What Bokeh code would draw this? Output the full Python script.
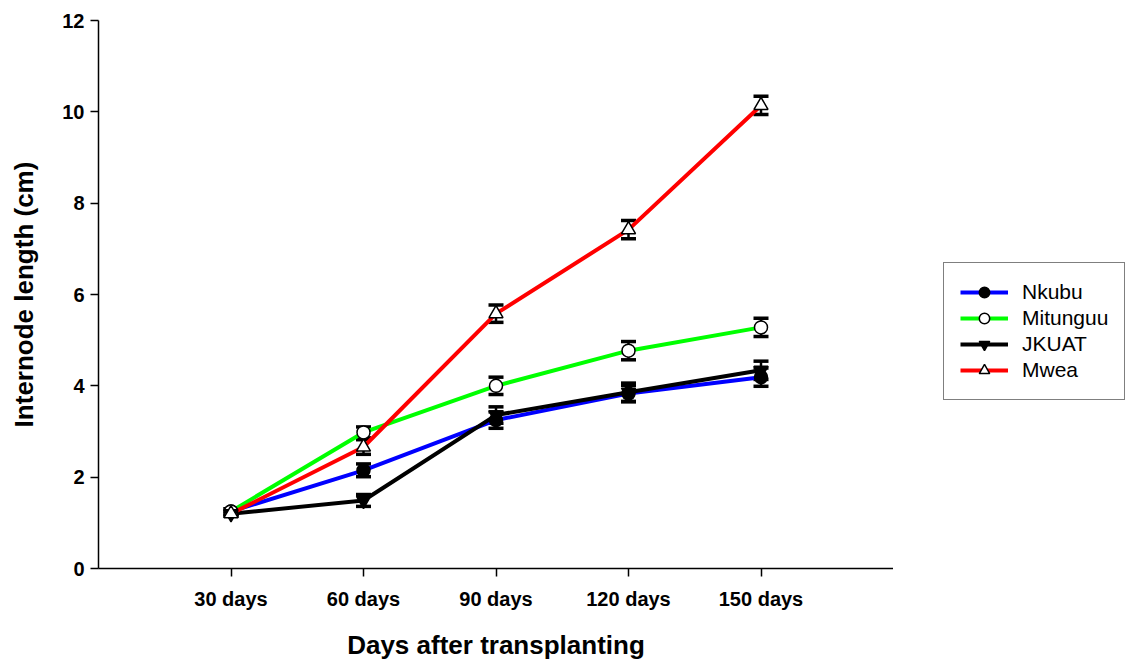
from bokeh.plotting import figure
from bokeh.layouts import row
from bokeh.models import (ColumnDataSource, Whisker, TeeHead, Legend, LegendItem,
                          FixedTicker, Range1d)
from bokeh.embed import file_html
from bokeh.resources import INLINE

categories = ["30 days", "60 days", "90 days", "120 days", "150 days"]
x_pos = [1, 2, 3, 4, 5]

nkubu = [1.25, 2.15, 3.25, 3.83, 4.19]
nkubu_err = [0.06, 0.14, 0.18, 0.18, 0.2]
mitunguu = [1.25, 2.98, 4.0, 4.77, 5.28]
mitunguu_err = [0.06, 0.12, 0.19, 0.2, 0.2]
jkuat = [1.2, 1.49, 3.36, 3.86, 4.34]
jkuat_err = [0.05, 0.13, 0.18, 0.2, 0.2]
mwea = [1.2, 2.66, 5.58, 7.42, 10.14]
mwea_err = [0.05, 0.16, 0.19, 0.2, 0.2]

series = [
    ("Nkubu", nkubu, nkubu_err, "#0000ff", "circle", "black"),
    ("Mitunguu", mitunguu, mitunguu_err, "#00ff00", "circle", "white"),
    ("JKUAT", jkuat, jkuat_err, "black", "inverted_triangle", "black"),
    ("Mwea", mwea, mwea_err, "#ff0000", "triangle", "white"),
]

p = figure(frame_width=795, frame_height=548, output_backend="svg", toolbar_location=None,
           x_range=Range1d(0, 6), y_range=Range1d(0, 12),
           min_border_left=98, min_border_right=0, min_border_top=20, min_border_bottom=93)
p.outline_line_color = None
p.grid.grid_line_color = None
p.background_fill_color = "white"
p.border_fill_color = "white"

for ax in (p.xaxis, p.yaxis):
    ax.axis_line_width = 1.5
    ax.axis_line_color = "black"
    ax.major_tick_line_width = 1.5
    ax.major_tick_line_color = "black"
    ax.major_tick_out = 8
    ax.major_tick_in = 0
    ax.minor_tick_line_color = None
    ax.major_label_text_font = "Liberation Sans"
    ax.major_label_text_font_style = "bold"
    ax.major_label_text_font_size = "20px"
    ax.major_label_text_color = "black"
    ax.axis_label_text_font = "Liberation Sans"
    ax.axis_label_text_font_style = "bold"
    ax.axis_label_text_font_size = "26px"
    ax.axis_label_text_color = "black"

p.xaxis.ticker = FixedTicker(ticks=x_pos)
p.xaxis.major_label_overrides = {x: c for x, c in zip(x_pos, categories)}
p.xaxis.axis_label = "Days after transplanting"
p.xaxis.major_label_standoff = 11
p.xaxis.axis_label_standoff = 17

p.yaxis.ticker = FixedTicker(ticks=[0, 2, 4, 6, 8, 10, 12])
p.yaxis.axis_label = "Internode length (cm)"
p.yaxis.major_label_standoff = 6
p.yaxis.axis_label_standoff = 20

sources = []
for name, vals, errs, color, marker, fill in series:
    src = ColumnDataSource(dict(x=x_pos, y=vals,
                                lo=[v - e for v, e in zip(vals, errs)],
                                hi=[v + e for v, e in zip(vals, errs)]))
    p.line("x", "y", source=src, line_color=color, line_width=4)
    sources.append((src, marker, fill))

for src, marker, fill in sources:
    w = Whisker(source=src, base="x", lower="lo", upper="hi",
                line_color="black", line_width=2.5,
                upper_head=TeeHead(size=15, line_width=3.5, line_color="black"),
                lower_head=TeeHead(size=15, line_width=3.5, line_color="black"))
    p.add_layout(w)
    sz = 13 if marker == "circle" else 14
    p.scatter("x", "y", source=src, marker=marker, size=sz,
              fill_color=fill, line_color="black", line_width=1.5)

# legend panel (its ranges are far from the data, so only the legend shows)
lp = figure(frame_width=233, frame_height=548, output_backend="svg", toolbar_location=None,
            x_range=Range1d(100, 101), y_range=Range1d(100, 101),
            min_border_left=0, min_border_right=0, min_border_top=20, min_border_bottom=93)
lp.axis.visible = False
lp.grid.grid_line_color = None
lp.outline_line_color = None
lp.background_fill_color = "white"
lp.border_fill_color = "white"

items = []
for (name, vals, errs, color, marker, fill), (src, _, _) in zip(series, sources):
    lr = lp.line("x", "y", source=src, line_color=color, line_width=4)
    sr = lp.scatter("x", "y", source=src, marker=marker, fill_color=fill,
                    line_color="black", line_width=1.5)
    items.append(LegendItem(label=name, renderers=[lr, sr]))

legend = Legend(items=items, location=(50, 168), orientation="vertical")
legend.border_line_color = "black"
legend.border_line_width = 1.5
legend.background_fill_color = "white"
legend.background_fill_alpha = 1
legend.label_text_font = "Liberation Sans"
legend.label_text_font_size = "21px"
legend.label_text_color = "black"
legend.glyph_width = 48
legend.glyph_height = 26
legend.label_height = 26
legend.label_standoff = 14
legend.spacing = 0
legend.padding = 16
legend.margin = 0
lp.add_layout(legend, "center")

layout = row(p, lp, spacing=0)
open("out.html", "w").write(file_html(layout, INLINE))
